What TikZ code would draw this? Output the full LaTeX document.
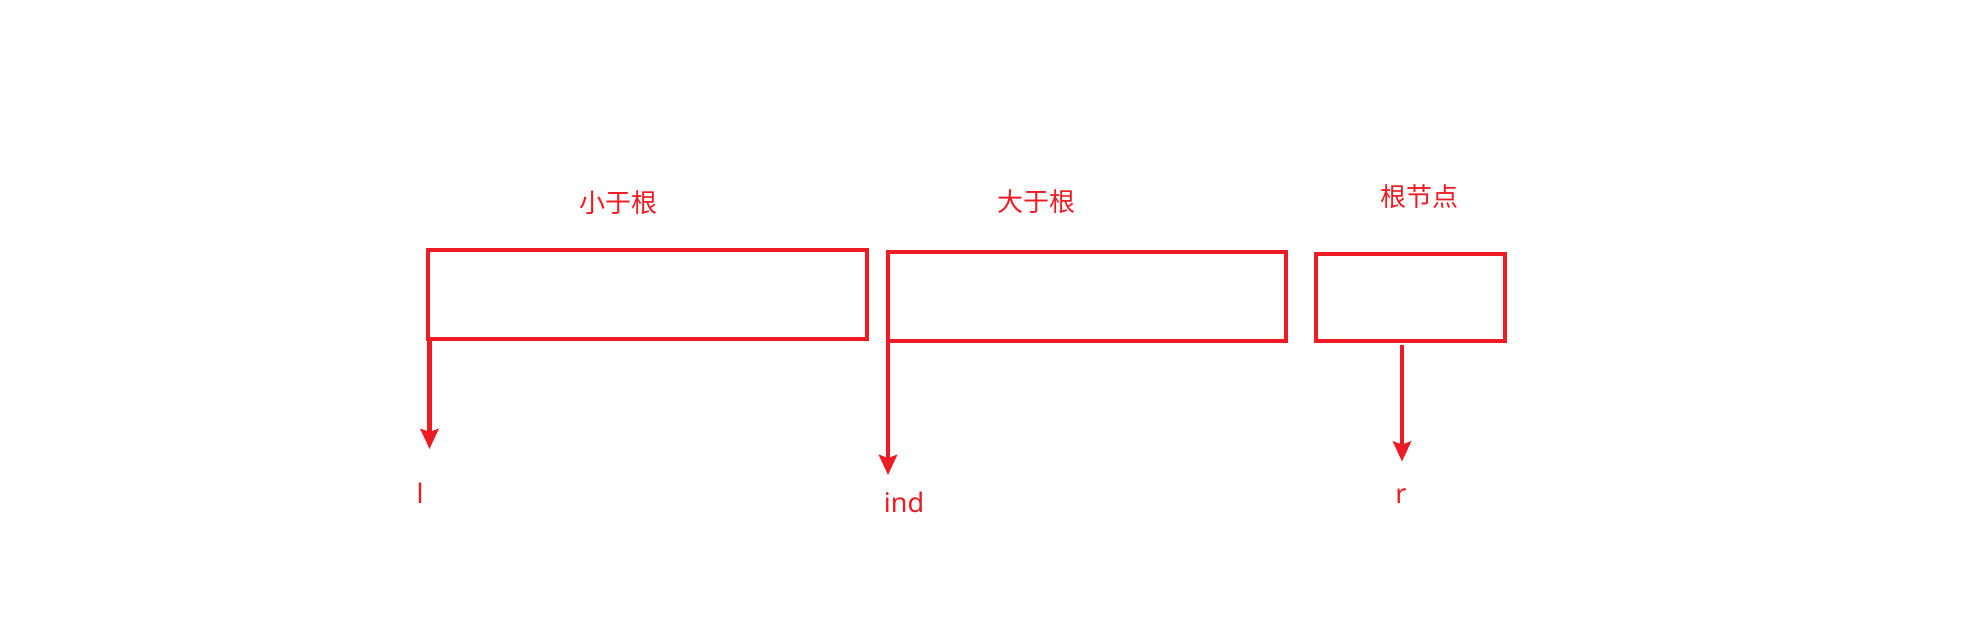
\documentclass[tikz,border=0pt]{standalone}
\usepackage{fontspec}
\newfontfamily\cjkfont{Noto Sans CJK SC}
\newfontfamily\latfont{Noto Sans}
\usetikzlibrary{arrows.meta}
\definecolor{pred}{HTML}{ED1C24}
\begin{document}
\begin{tikzpicture}[x=1pt,y=-1pt,
  box/.style={draw=pred,line width=4pt,rectangle,inner sep=0pt,outer sep=0pt},
  arr/.style={draw=pred,line width=4.5pt,-{Stealth[width=18pt,length=20pt,inset=3pt]}},
  cjklab/.style={text=pred,inner sep=0pt,font=\cjkfont\fontsize{26}{30}\selectfont},
  latlab/.style={text=pred,inner sep=0pt,font=\latfont\fontsize{27}{32}\selectfont}]
\useasboundingbox[fill=white] (0,0) rectangle (1986,624);
\node[box,minimum width=438.4pt,minimum height=88.7pt] (b1) at (647.5,294.35) {};
\node[box,minimum width=398.6pt,minimum height=88.7pt] (b2) at (1087,296.35) {};
\node[box,minimum width=188.4pt,minimum height=86.7pt] (b3) at (1410.5,297.35) {};
\node[cjklab] (t1) at (618,203) {小于根};
\node[cjklab] (t2) at (1036,202) {大于根};
\node[cjklab] (t3) at (1419,197) {根节点};
\coordinate (e1) at (429.5,449);
\coordinate (e2) at (888,475);
\coordinate (e3) at (1402,461.5);
\node[latlab] (l1) at (420,493.5) {l};
\node[latlab] (l2) at (904,502) {ind};
\node[latlab] (l3) at (1401,496) {r};
\draw[arr] ([xshift=1.2pt]b1.south west) -- (e1);
\draw[arr] ([xshift=0.3pt]b2.south west) -- (e2);
\draw[arr] ([xshift=-8.5pt,yshift=-4.3pt]b3.south) -- (e3);
\end{tikzpicture}
\end{document}
